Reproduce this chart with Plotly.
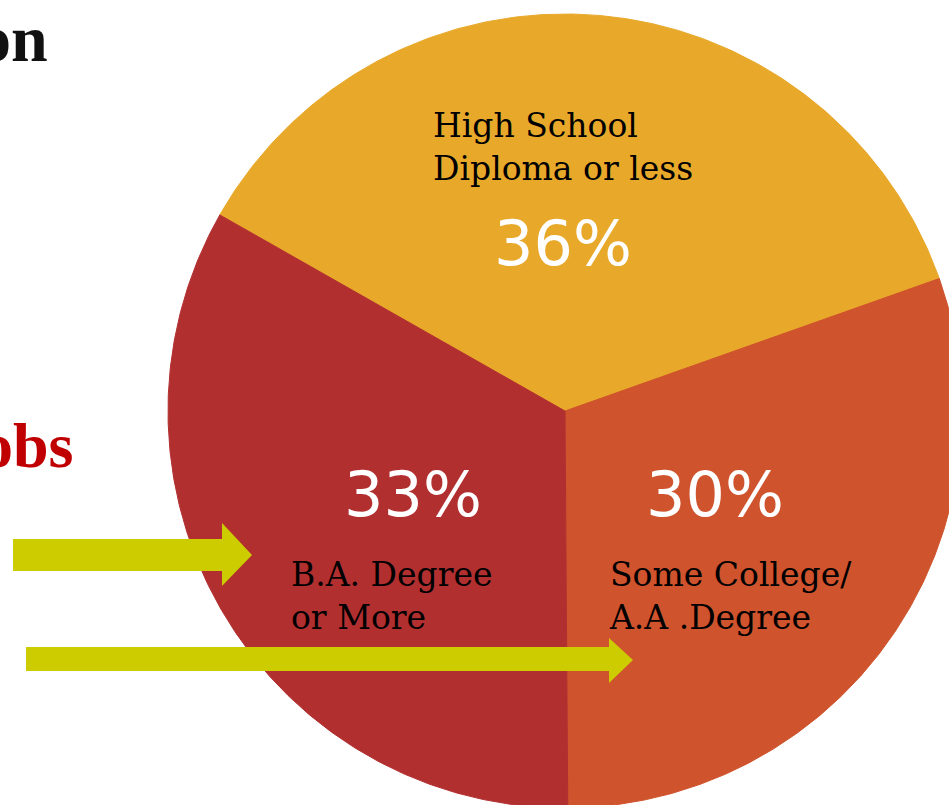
import numpy as np
import plotly.graph_objects as go

# ---- data ----
categories = ["High School<br>Diploma or less", "Some College/<br>A.A .Degree", "B.A. Degree<br>or More"]
values = [36, 30, 33]
pct_labels = [f"{v}%" for v in values]
colors = ["#E8A92B", "#CF532C", "#B22F30"]

W, H = 949, 805
cx, cy, R = 565, 411, 397
start_deg = 299.6  # first slice starts here, clockwise from 12 o'clock

fig = go.Figure()

total = sum(values)
a = start_deg
for cat, v, col in zip(categories, values, colors):
    span = v / total * 360.0
    ang = np.radians(np.linspace(a, a + span, 240))
    xs = np.concatenate([[cx], cx + R * np.sin(ang), [cx]])
    ys = np.concatenate([[cy], cy - R * np.cos(ang), [cy]])
    fig.add_trace(go.Scatter(x=xs, y=ys, mode="lines", fill="toself",
                             fillcolor=col, line=dict(color=col, width=1),
                             hoverinfo="skip", showlegend=False, name=cat))
    a += span

# label placements (pixel coordinates of the canvas)
label_pos = [(431, 147), (607, 596), (289, 596)]
pct_pos = [(563, 243), (715, 494), (413, 494)]

ann = []
for cat, (lx, ly) in zip(categories, label_pos):
    ann.append(dict(x=lx, y=ly, xref="x", yref="y", text=cat, showarrow=False,
                    xanchor="left", yanchor="middle", align="left",
                    font=dict(family="DejaVu Serif", size=33, color="#000000")))
for p, (px, py) in zip(pct_labels, pct_pos):
    ann.append(dict(x=px, y=py, xref="x", yref="y", text=p, showarrow=False,
                    xanchor="center", yanchor="middle",
                    font=dict(family="DejaVu Sans", size=62, color="#FFFFFF")))

# partial heading words cut by the left edge (as in the reference)
ann.append(dict(x=50, y=77, xref="x", yref="y", text="<b>on</b>", showarrow=False,
                xanchor="right", yanchor="bottom",
                font=dict(family="Liberation Serif", size=66, color="#111111")))
ann.append(dict(x=76, y=483, xref="x", yref="y", text="<b>obs</b>", showarrow=False,
                xanchor="right", yanchor="bottom",
                font=dict(family="Liberation Serif", size=64, color="#C00000")))

arrow_col = "#CCCC00"
shapes = [
    dict(type="path", xref="x", yref="y", layer="above", line=dict(width=0),
         fillcolor=arrow_col,
         path="M 13 539 L 222 539 L 222 523 L 252 555 L 222 586 L 222 571 L 13 571 Z"),
    dict(type="path", xref="x", yref="y", layer="above", line=dict(width=0),
         fillcolor=arrow_col,
         path="M 26 647 L 609 647 L 609 638 L 633 660 L 609 683 L 609 671 L 26 671 Z"),
]

fig.update_layout(
    width=W, height=H, autosize=False,
    margin=dict(l=0, r=0, t=0, b=0),
    paper_bgcolor="#FFFFFF", plot_bgcolor="#FFFFFF",
    xaxis=dict(range=[0, W], visible=False, fixedrange=True),
    yaxis=dict(range=[H, 0], visible=False, fixedrange=True),
    annotations=ann, shapes=shapes, showlegend=False,
)

fig.write_html("out.html", config={"displayModeBar": False},
               post_script="document.body.style.margin='0';document.body.style.overflow='hidden';")
